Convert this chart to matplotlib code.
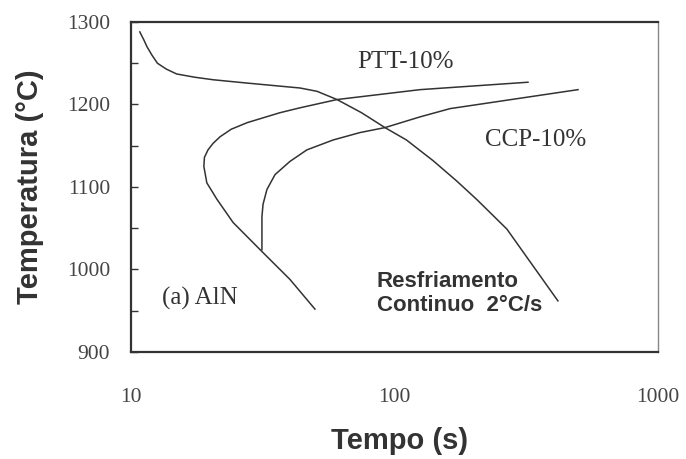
import numpy as np
from matplotlib import pyplot as plt
from matplotlib.ticker import FixedLocator, NullLocator

# cooling curve, continuous 2 C/s
cool_t = [10.8, 11.2, 11.5, 12.0, 12.6, 13.6, 14.9, 17.5, 20.5, 27.5, 43.8,
          50.8, 60.5, 75, 92.0, 111, 140, 172.6, 205, 267, 326, 417]
cool_T = [1288, 1278, 1270, 1260, 1250, 1243, 1237, 1233, 1230, 1226, 1220,
          1216, 1206, 1190, 1172, 1157, 1132, 1107, 1085, 1049, 1010, 962]

# PTT-10% curve (lower branch -> nose -> upper branch)
ptt_t = [49.9, 40.1, 30.9, 24.4, 21.2, 19.4, 18.9, 19.0, 19.6, 20.5, 21.8,
         24.0, 27.6, 36.7, 43.8, 60.5, 125, 321]
ptt_T = [952, 988, 1024, 1057, 1085, 1105, 1125, 1136, 1145, 1153, 1161,
         1170, 1178, 1190, 1196, 1206, 1218, 1227]

# CCP-10% curve
ccp_t = [31.4, 31.4, 31.7, 32.8, 35.2, 40.1, 46.5, 58.5, 74, 92, 125, 162.5, 497]
ccp_T = [1024, 1064, 1079, 1097, 1115, 1131, 1145, 1157, 1166, 1172, 1185,
         1195, 1218]

y_ticks = [900, 1000, 1100, 1200, 1300]
x_ticks = [10, 100, 1000]

ink = '#333333'
serif = ['Liberation Serif', 'DejaVu Serif']
sans = ['Liberation Sans', 'DejaVu Sans']

fig = plt.figure(figsize=(6.86, 4.59), dpi=100)
ax = fig.add_axes([131 / 686, 1 - 352 / 459, 527 / 686, 330 / 459])

for t, T in [(cool_t, cool_T), (ptt_t, ptt_T), (ccp_t, ccp_T)]:
    ax.plot(t, T, color=ink, lw=1.1)

ax.set_xscale('log')
ax.set_xlim(10, 1000)
ax.set_ylim(900, 1300)

ax.xaxis.set_major_locator(FixedLocator(x_ticks))
ax.xaxis.set_minor_locator(NullLocator())
ax.set_xticklabels([str(v) for v in x_ticks])
ax.yaxis.set_major_locator(FixedLocator(y_ticks))
ax.yaxis.set_minor_locator(FixedLocator([950, 1050, 1150, 1250]))
ax.set_yticklabels([str(v) for v in y_ticks])

ax.tick_params(axis='x', length=0, pad=26, labelsize=15.5, labelcolor='#444444')
ax.tick_params(axis='y', which='both', direction='in', length=5, width=1,
               color=ink, pad=15, labelsize=15.5, labelcolor='#444444')
for lab in ax.get_xticklabels() + ax.get_yticklabels():
    lab.set_family(serif)

for side in ['left', 'bottom', 'top']:
    ax.spines[side].set_linewidth(1.6)
    ax.spines[side].set_color(ink)
ax.spines['right'].set_linewidth(1.0)
ax.spines['right'].set_color('#888888')

ax.text(110, 1252, 'PTT-10%', family=serif, fontsize=18, color=ink,
        ha='center', va='center')
ax.text(344, 1157, 'CCP-10%', family=serif, fontsize=18, color=ink,
        ha='center', va='center')
ax.text(13.1, 965, '(a) AlN', family=serif, fontsize=18, color=ink,
        ha='left', va='center')
ax.text(85.8, 971, 'Resfriamento\nContinuo  2°C/s', family=sans,
        fontweight='bold', fontsize=16, color=ink, ha='left', va='center',
        linespacing=1.2)

fig.text(30 / 686, 1 - 187 / 459, 'Temperatura (°C)', family=sans,
         fontweight='bold', fontsize=21, color=ink, rotation=90,
         ha='center', va='center')
fig.text(400 / 686, 1 - 441 / 459, 'Tempo (s)', family=sans,
         fontweight='bold', fontsize=21, color=ink, ha='center', va='center')

fig.savefig('out.png', dpi=100)
